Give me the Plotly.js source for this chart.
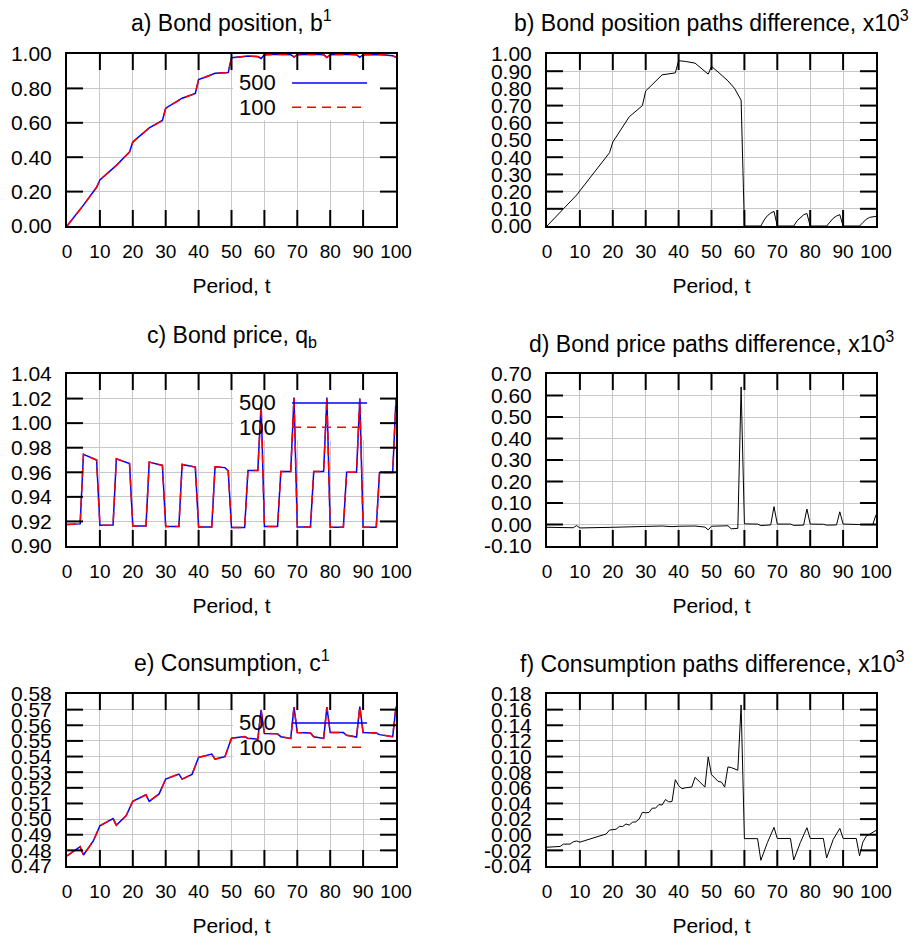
<!DOCTYPE html>
<html>
<head>
<meta charset="utf-8">
<script src="https://cdn.plot.ly/plotly-3.0.1.min.js"></script>
<style>html,body{margin:0;padding:0;background:#fff;}#chart{width:920px;height:946px;}</style>
</head>
<body>
<div id="chart"></div>
<script>
// ---------------- DATA ----------------
// a) Bond position b^1 (T = 500 and T = 100)
const tA = [0,5,9,10,15,19,20,25,29,30,35,39,40,45,49,50,55,58,59,60,65,68,69,70,75,78,79,80,85,88,89,90,95,99,100];
const bPos500 = [0,0.1211,0.2252,0.2682,0.3527,0.4305,0.4886,0.5707,0.6137,0.6848,0.7429,0.7709,0.8510,0.8879,0.8919,0.9779,0.9888,0.9848,0.9737,0.9960,0.9980,0.9961,0.9821,0.9960,0.9980,0.9961,0.9801,0.9960,0.9980,0.9961,0.9811,0.9960,0.9975,0.9900,0.9811];
const bPos100 = [0,0.121,0.225,0.268,0.352,0.430,0.488,0.570,0.613,0.684,0.742,0.770,0.850,0.887,0.891,0.977,0.988,0.984,0.973,0.996,0.998,0.996,0.982,0.996,0.998,0.996,0.980,0.996,0.998,0.996,0.981,0.996,0.9975,0.990,0.981];
// b) Bond position paths difference, x10^3
const tB = [0,9,19,20,25,29,30,35,39,40,42,45,49,50,52,55,57,59,60,65,66,67,68,69,70,75,76,77,78,79,80,85,86,87,88,89,90,95,96,97,98,99,100];
const bDiff = [0,0.180,0.426,0.488,0.635,0.700,0.785,0.879,0.890,0.961,0.957,0.947,0.883,0.928,0.895,0.844,0.800,0.732,0,0,0.035,0.060,0.075,0.085,0,0,0.030,0.050,0.065,0.073,0,0,0.025,0.045,0.058,0.066,0,0,0.020,0.038,0.050,0.055,0.056];
// c) Bond price q_b
const tC = [0,4,5,9,10,14,15,19,20,24,25,29,30,34,35,39,40,44,45,48,49,50,54,55,58,59,60,64,65,68,69,70,74,75,78,79,80,84,85,88,89,90,94,95,99,100];
const qb500 = [0.9174,0.9180,0.9746,0.9700,0.9169,0.9170,0.9710,0.9672,0.9163,0.9163,0.9683,0.9656,0.9158,0.9158,0.9664,0.9642,0.9155,0.9155,0.9645,0.9638,0.9612,0.9150,0.9150,0.9615,0.9615,1.0156,0.9158,0.9158,0.9607,0.9607,1.0209,0.9155,0.9155,0.9607,0.9607,1.0209,0.9152,0.9152,0.9600,0.9600,1.0201,0.9152,0.9152,0.9598,0.9598,1.0200];
const qb100 = [0.9174,0.9180,0.9746,0.9700,0.9169,0.9170,0.9710,0.9672,0.9163,0.9163,0.9683,0.9656,0.9158,0.9158,0.9664,0.9642,0.9155,0.9155,0.9645,0.9638,0.9612,0.9150,0.9150,0.9615,0.9615,1.0150,0.9158,0.9158,0.9607,0.9607,1.0208,0.9155,0.9155,0.9607,0.9607,1.0208,0.9152,0.9152,0.9600,0.9600,1.0200,0.9152,0.9152,0.9598,0.9598,1.0200];
// d) Bond price paths difference, x10^3
const tD = [0,8,9,10,20,30,35,38,40,45,48,49,50,55,56,58,59,60,64,65,68,69,70,74,75,78,79,80,84,85,88,89,90,95,99,100];
const qDiff = [-0.013,-0.015,-0.005,-0.016,-0.013,-0.009,-0.007,-0.010,-0.008,-0.007,-0.012,-0.025,-0.008,-0.006,-0.020,-0.018,0.640,0.003,0.002,-0.005,-0.002,0.083,0.002,0.002,-0.004,-0.003,0.072,0.002,0.001,-0.003,-0.002,0.059,0.002,0.000,-0.001,0.045];
// e) Consumption c^1
const tE = [0,4,5,8,10,14,15,18,20,24,25,28,30,34,35,38,40,44,45,48,50,54,55,58,59,60,64,65,68,69,70,74,75,78,79,80,84,85,88,89,90,94,95,99,100];
const cons500 = [0.4765,0.4824,0.4770,0.4860,0.4957,0.5004,0.4961,0.5022,0.5114,0.5155,0.5114,0.5161,0.5256,0.5288,0.5256,0.5286,0.5395,0.5416,0.5384,0.5399,0.5517,0.5528,0.5517,0.5511,0.5699,0.5548,0.5545,0.5527,0.5516,0.5716,0.5553,0.5550,0.5527,0.5516,0.5716,0.5553,0.5553,0.5536,0.5525,0.5720,0.5553,0.5550,0.5540,0.5527,0.5720];
const cons100 = [0.4765,0.4824,0.4770,0.4860,0.4957,0.5004,0.4961,0.5022,0.5114,0.5155,0.5114,0.5161,0.5256,0.5288,0.5256,0.5286,0.5394,0.5415,0.5383,0.5398,0.5516,0.5527,0.5516,0.5510,0.5697,0.5548,0.5545,0.5527,0.5516,0.5716,0.5553,0.5550,0.5527,0.5516,0.5716,0.5553,0.5553,0.5536,0.5525,0.5720,0.5553,0.5550,0.5540,0.5527,0.5720];
// f) Consumption paths difference, x10^3
const tF = [0,4,5,7,8,9,10,12,14,16,18,19,20,21,22,23,24,25,26,27,28,29,30,31,32,33,34,35,36,37,38,39,40,41,42,44,45,48,49,50,51,52,53,54,55,56,58,59,60,64,65,67,69,70,74,75,77,79,80,84,85,87,89,90,94,95,96,97,100];
const cDiff = [-0.016,-0.015,-0.012,-0.012,-0.009,-0.008,-0.0095,-0.007,-0.004,-0.002,0.001,0.006,0.0068,0.007,0.0107,0.0105,0.0137,0.0124,0.016,0.0165,0.020,0.0287,0.028,0.0285,0.034,0.034,0.0386,0.038,0.045,0.042,0.0425,0.0704,0.063,0.0588,0.060,0.061,0.0734,0.061,0.0996,0.0768,0.0726,0.0683,0.0674,0.061,0.0867,0.0859,0.0825,0.166,-0.005,-0.005,-0.0327,-0.010,0.0094,-0.0048,-0.0048,-0.0323,-0.010,0.009,-0.0048,-0.0048,-0.0297,-0.006,0.0081,-0.0048,-0.0048,-0.027,-0.0096,-0.002,0.0055];

// Tick values / labels
const xTicks = [0,10,20,30,40,50,60,70,80,90,100];
const aTickVals = [0,0.2,0.4,0.6,0.8,1.0];
const bTickVals = [0,0.1,0.2,0.3,0.4,0.5,0.6,0.7,0.8,0.9,1.0];
const cTickVals = [0.90,0.92,0.94,0.96,0.98,1.00,1.02,1.04];
const dTickVals = [-0.1,0,0.1,0.2,0.3,0.4,0.5,0.6,0.7];
const eTickVals = [0.47,0.48,0.49,0.50,0.51,0.52,0.53,0.54,0.55,0.56,0.57,0.58];
const fTickVals = [-0.04,-0.02,0,0.02,0.04,0.06,0.08,0.10,0.12,0.14,0.16,0.18];
const legendNames = ['500','100'];
const panelTitles = [
  'a) Bond position, b<sup>1</sup>',
  'b) Bond position paths difference, x10<sup>3</sup>',
  'c) Bond price, q<sub>b</sub>',
  'd) Bond price paths difference, x10<sup>3</sup>',
  'e) Consumption, c<sup>1</sup>',
  'f) Consumption paths difference, x10<sup>3</sup>'
];
const xTitle = 'Period, t';

// ---------------- STYLE / LAYOUT ----------------
const FONT = 'Liberation Sans, Arial, Helvetica, sans-serif';
const W = 920, H = 946;
const colsPx = [[67, 396], [547, 876]];
const rowsPx = [[54, 226], [374, 546], [694, 866]];
const titleY = [21, 21, 336, 342, 661, 662];
const BLUE = '#0000ff', RED = '#ff0000', DASH = '9px,6px';
const TICKLEN = 16;
const xRange = [0, 100];
const yTickSets = [aTickVals, bTickVals, cTickVals, dTickVals, eTickVals, fTickVals];
const yRanges = [[0,1],[0,1],[0.9,1.04],[-0.1,0.7],[0.47,0.58],[-0.04,0.18]];

function xdom(c){ return [colsPx[c][0]/W, colsPx[c][1]/W]; }
function ydom(r){ return [1 - rowsPx[r][1]/H, 1 - rowsPx[r][0]/H]; }
function axisBase(){
  return {
    showline: true, linewidth: 2, linecolor: '#000', mirror: true,
    ticks: '', showgrid: true, gridcolor: '#c8c8c8', gridwidth: 1,
    zeroline: false, automargin: false, fixedrange: true
  };
}

const layout = {
  width: W, height: H,
  margin: {l:0, r:0, t:0, b:0, pad:0},
  showlegend: false,
  font: {family: FONT, color: '#000'},
  annotations: [], shapes: []
};
for (let i = 0; i < 6; i++){
  const c = i % 2, r = Math.floor(i/2);
  const suf = i === 0 ? '' : String(i+1);
  const xa = axisBase();
  Object.assign(xa, {
    domain: xdom(c), range: xRange, anchor: 'y'+suf,
    tickmode: 'array', tickvals: xTicks, ticktext: xTicks.map(String),
    tickfont: {family: FONT, size: 19, color: '#000'},
    ticklabelstandoff: 7,
    title: {text: xTitle, font: {family: FONT, size: 21, color: '#000'}, standoff: 18}
  });
  const ya = axisBase();
  Object.assign(ya, {
    domain: ydom(r), range: yRanges[i], anchor: 'x'+suf,
    tickmode: 'array', tickvals: yTickSets[i], ticktext: yTickSets[i].map(function(v){ return v.toFixed(2); }),
    tickfont: {family: FONT, size: 21, color: '#000'},
    ticklabelstandoff: 9
  });
  layout['xaxis'+suf] = xa;
  layout['yaxis'+suf] = ya;

  // panel title
  layout.annotations.push({
    xref: 'paper', yref: 'paper',
    x: (colsPx[c][0]+colsPx[c][1])/2/W, y: 1 - titleY[i]/H,
    xanchor: 'center', yanchor: 'middle', showarrow: false,
    text: panelTitles[i], font: {family: FONT, size: 23, color: '#000'}
  });

  // gnuplot-style inward tick marks on all four sides at the tick values (axis-referenced lines)
  const wPx = colsPx[c][1] - colsPx[c][0], hPx = rowsPx[r][1] - rowsPx[r][0];
  const yr = yRanges[i];
  const lenY = (yr[1] - yr[0]) * TICKLEN / hPx;
  const lenX = (xRange[1] - xRange[0]) * TICKLEN / wPx;
  const xr = 'x'+suf, yrf = 'y'+suf;
  xTicks.slice(1, -1).forEach(function(v){
    layout.shapes.push({type:'line', xref:xr, yref:yrf, x0:v, x1:v, y0:yr[0], y1:yr[0]+lenY, line:{color:'#000', width:2}, layer:'above'});
    layout.shapes.push({type:'line', xref:xr, yref:yrf, x0:v, x1:v, y0:yr[1]-lenY, y1:yr[1], line:{color:'#000', width:2}, layer:'above'});
  });
  yTickSets[i].slice(1, -1).forEach(function(v){
    layout.shapes.push({type:'line', xref:xr, yref:yrf, x0:xRange[0], x1:xRange[0]+lenX, y0:v, y1:v, line:{color:'#000', width:2}, layer:'above'});
    layout.shapes.push({type:'line', xref:xr, yref:yrf, x0:xRange[1]-lenX, x1:xRange[1], y0:v, y1:v, line:{color:'#000', width:2}, layer:'above'});
  });
}

// Keys for the left-hand panels: white key box (filled area under the data, above the grid),
// key texts (annotations) and key samples (shapes), placed by fractions of the plot area.
const keyBoxes = [];
[['', 0], ['3', 2], ['5', 4]].forEach(function(p){
  const suf = p[0], yr0 = yRanges[p[1]];
  const fx = function(f){ return 100*f; };
  const fy = function(f){ return yr0[0] + f*(yr0[1]-yr0[0]); };
  const xr = 'x'+suf, yr = 'y'+suf;
  keyBoxes.push({
    x: [fx(0.505), fx(0.951), fx(0.951), fx(0.505), fx(0.505)],
    y: [fy(0.615), fy(0.615), fy(0.945), fy(0.945), fy(0.615)],
    xaxis: xr, yaxis: yr, type: 'scatter', mode: 'lines', fill: 'toself',
    fillcolor: '#ffffff', line: {width: 0, color: 'rgba(0,0,0,0)'}, hoverinfo: 'skip', showlegend: false
  });
  layout.shapes.push({type:'line', xref:xr, yref:yr, x0:fx(0.684), x1:fx(0.912), y0:fy(0.832), y1:fy(0.832),
    line:{color:BLUE, width:1.5}});
  layout.shapes.push({type:'line', xref:xr, yref:yr, x0:fx(0.684), x1:fx(0.912), y0:fy(0.691), y1:fy(0.691),
    line:{color:RED, width:1.5, dash:DASH}});
  [0.832, 0.691].forEach(function(yy, k){
    layout.annotations.push({xref:xr, yref:yr, x:fx(0.640), y:fy(yy), xanchor:'right', yanchor:'middle',
      showarrow:false, text: legendNames[k], font:{family:FONT, size:22, color:'#000'}});
  });
});

function pair(tt, y500, y100, suf){
  return [
    {x: tt, y: y500, xaxis:'x'+suf, yaxis:'y'+suf, type:'scatter', mode:'lines', name: legendNames[0],
     line:{color:BLUE, width:1.5}, hoverinfo:'skip'},
    {x: tt, y: y100, xaxis:'x'+suf, yaxis:'y'+suf, type:'scatter', mode:'lines', name: legendNames[1],
     line:{color:RED, width:1.5, dash:DASH}, hoverinfo:'skip'}
  ];
}
function single(tt, yy, suf){
  return {x: tt, y: yy, xaxis:'x'+suf, yaxis:'y'+suf, type:'scatter', mode:'lines',
    line:{color:'#000', width:1}, hoverinfo:'skip'};
}
const data = [].concat(
  keyBoxes,
  pair(tA, bPos500, bPos100, ''), [single(tB, bDiff, '2')],
  pair(tC, qb500, qb100, '3'), [single(tD, qDiff, '4')],
  pair(tE, cons500, cons100, '5'), [single(tF, cDiff, '6')]
);

Plotly.newPlot('chart', data, layout, {staticPlot: true, displayModeBar: false});
</script>
</body>
</html>
